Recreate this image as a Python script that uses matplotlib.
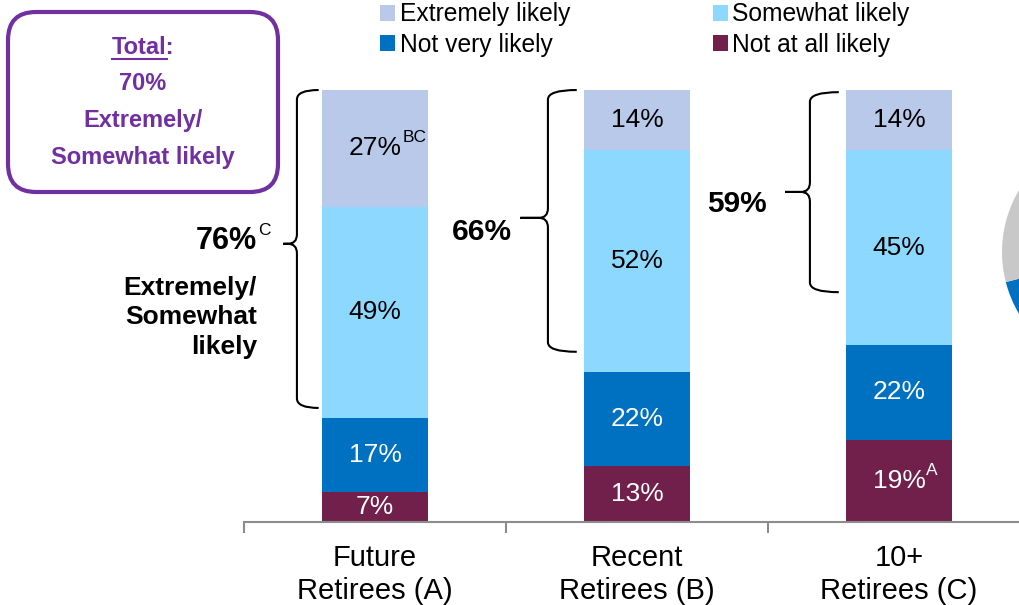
import matplotlib.pyplot as plt
from matplotlib.patches import FancyBboxPatch, PathPatch
from matplotlib.path import Path
from matplotlib.lines import Line2D

plt.rcParams['font.family'] = ['Liberation Sans', 'DejaVu Sans']

# data
groups = ['Future\nRetirees (A)', 'Recent\nRetirees (B)', '10+\nRetirees (C)']
levels = ['Not at all likely', 'Not very likely', 'Somewhat likely', 'Extremely likely']
not_at_all = [7, 13, 19]
not_very = [17, 22, 22]
somewhat = [49, 52, 45]
extremely = [27, 14, 14]
top2_labels = ['76%', '66%', '59%']
sig_letters = {(0, 3): 'BC', (2, 0): 'A'}   # (group, level) -> superscript
pie_values = [71, 29]

colors = ['#70204a', '#0070c0', '#8dd8ff', '#b9c9ea']
text_colors = ['white', 'white', 'black', 'black']
purple = '#7030a0'
pie_colors = ['#0070c0', '#c8c8c8']

fig = plt.figure(figsize=(10.19, 6.05), dpi=100)
ax = fig.add_axes([244 / 1019, 83 / 605, 775 / 1019, 432 / 605])

series = [not_at_all, not_very, somewhat, extremely]
totals = [sum(s[i] for s in series) for i in range(len(groups))]
x = list(range(len(groups)))
bottom = [0] * len(groups)
bar_w = 0.405
for lvl, vals in enumerate(series):
    heights = [v / t * 100 for v, t in zip(vals, totals)]  # rounding -> 100%
    bars = ax.bar(x, heights, bar_w, bottom=bottom, color=colors[lvl],
                  label=levels[lvl], zorder=2)
    for i, b in enumerate(bars):
        cy = b.get_y() + b.get_height() / 2
        t = ax.text(b.get_x() + b.get_width() / 2, cy, f'{vals[i]}%',
                    ha='center', va='center', fontsize=19,
                    color=text_colors[lvl], zorder=3)
        if (i, lvl) in sig_letters:
            ax.annotate(sig_letters[(i, lvl)], xy=(1, 0.62), xycoords=t,
                        xytext=(0.5, 0), textcoords='offset points',
                        ha='left', va='bottom', fontsize=12.5,
                        color=text_colors[lvl], zorder=3)
    bottom = [bt + h for bt, h in zip(bottom, heights)]

ax.set_xlim(-0.5, 2.458)
ax.set_ylim(0, 100)
for s in ['top', 'left', 'right']:
    ax.spines[s].set_visible(False)
ax.spines['bottom'].set_color('#8c8c8c')
ax.spines['bottom'].set_linewidth(1.5)
ax.set_yticks([])
ax.set_xticks(x, groups, fontsize=21, linespacing=1.2)
ax.tick_params(axis='x', which='major', length=0, pad=16)
ax.set_xticks([-0.5, 0.5, 1.5], minor=True)
ax.tick_params(axis='x', which='minor', length=8, width=1.5, color='#8c8c8c')


def brace(ax, x_line, x_end, x_tip, lo, hi, y_tip):
    rx, ry = 0.035, 2.2
    verts = [(x_end, hi), (x_line, hi), (x_line, hi - ry),
             (x_line, y_tip + ry), (x_line, y_tip), (x_line - rx, y_tip),
             (x_tip, y_tip), (x_line - rx, y_tip),
             (x_line, y_tip), (x_line, y_tip - ry),
             (x_line, lo + ry), (x_line, lo), (x_end, lo)]
    codes = [Path.MOVETO, Path.CURVE3, Path.CURVE3,
             Path.LINETO, Path.CURVE3, Path.CURVE3,
             Path.LINETO, Path.LINETO,
             Path.CURVE3, Path.CURVE3,
             Path.LINETO, Path.CURVE3, Path.CURVE3]
    ax.add_patch(PathPatch(Path(verts, codes), fill=False, lw=1.5,
                           ec='black', clip_on=False, zorder=4))


# braces: (line x, hook end x, tip x, low, high, tip y) relative to bar centre
brace(ax, 0 - 0.298, 0 - 0.215, 0 - 0.35, 26.4, 100, 64.4)
brace(ax, 1 - 0.34, 1 - 0.23, 1 - 0.445, 39.4, 100, 70.4)
brace(ax, 2 - 0.34, 2 - 0.23, 2 - 0.435, 53.2, 99.5, 76.4)

t76 = ax.text(-0.45, 65.0, top2_labels[0], ha='right', va='center',
              fontsize=22, fontweight='bold')
ax.annotate('C', xy=(1, 0.62), xycoords=t76, xytext=(0.5, 0),
            textcoords='offset points', ha='left', va='bottom', fontsize=12.5)
ax.text(-0.45, 47.4, 'Extremely/\nSomewhat\nlikely', ha='right', va='center',
        fontsize=19, fontweight='bold', linespacing=1.3)
ax.text(0.523, 67.1, top2_labels[1], ha='right', va='center',
        fontsize=21.5, fontweight='bold')
ax.text(1.496, 73.6, top2_labels[2], ha='right', va='center',
        fontsize=21.5, fontweight='bold')

# legend
h, l = ax.get_legend_handles_labels()
order = [3, 1, 2, 0]
fig.legend([h[i] for i in order], [l[i] for i in order], ncol=2,
           loc='upper left', bbox_to_anchor=(380 / 1019, 0.996),
           frameon=False, fontsize=17.7, handlelength=0.62, handleheight=0.62,
           handletextpad=0.18, columnspacing=5.8, labelspacing=0.25,
           borderpad=0, borderaxespad=0)

# total box
box = FancyBboxPatch((0.08, 4.13), 2.70, 1.80,
                     boxstyle='round,pad=0,rounding_size=0.28',
                     transform=fig.dpi_scale_trans, fill=False,
                     ec=purple, lw=3)
fig.add_artist(box)
cx = 1.43
box_lines = ['Total:', '70%', 'Extremely/', 'Somewhat likely']
box_y = [0.47, 0.84, 1.20, 1.57]
box_texts = [fig.text(cx, 6.05 - yy, s, transform=fig.dpi_scale_trans,
                      ha='center', va='center', fontsize=17,
                      fontweight='bold', color=purple)
             for s, yy in zip(box_lines, box_y)]

# underline "Total" (not the colon)
fig.canvas.draw()
r = fig.canvas.get_renderer()
bb = box_texts[0].get_window_extent(r)
colon_w = bb.width * 333 / 2722
fig.add_artist(Line2D([bb.x0 / 100, (bb.x1 - colon_w) / 100],
                      [(605 - 59) / 100] * 2, transform=fig.dpi_scale_trans,
                      color=purple, lw=1.5))

# partial pie at right edge
pax = fig.add_axes([1002 / 1019, 232 / 605, 242 / 1019, 242 / 605])
pax.pie(pie_values, colors=pie_colors, startangle=90, counterclock=False,
        radius=1)
pax.set_xlim(-1, 1)
pax.set_ylim(-1, 1)
pax.set_aspect('equal')
pax.axis('off')

fig.savefig('out.png', dpi=100)
